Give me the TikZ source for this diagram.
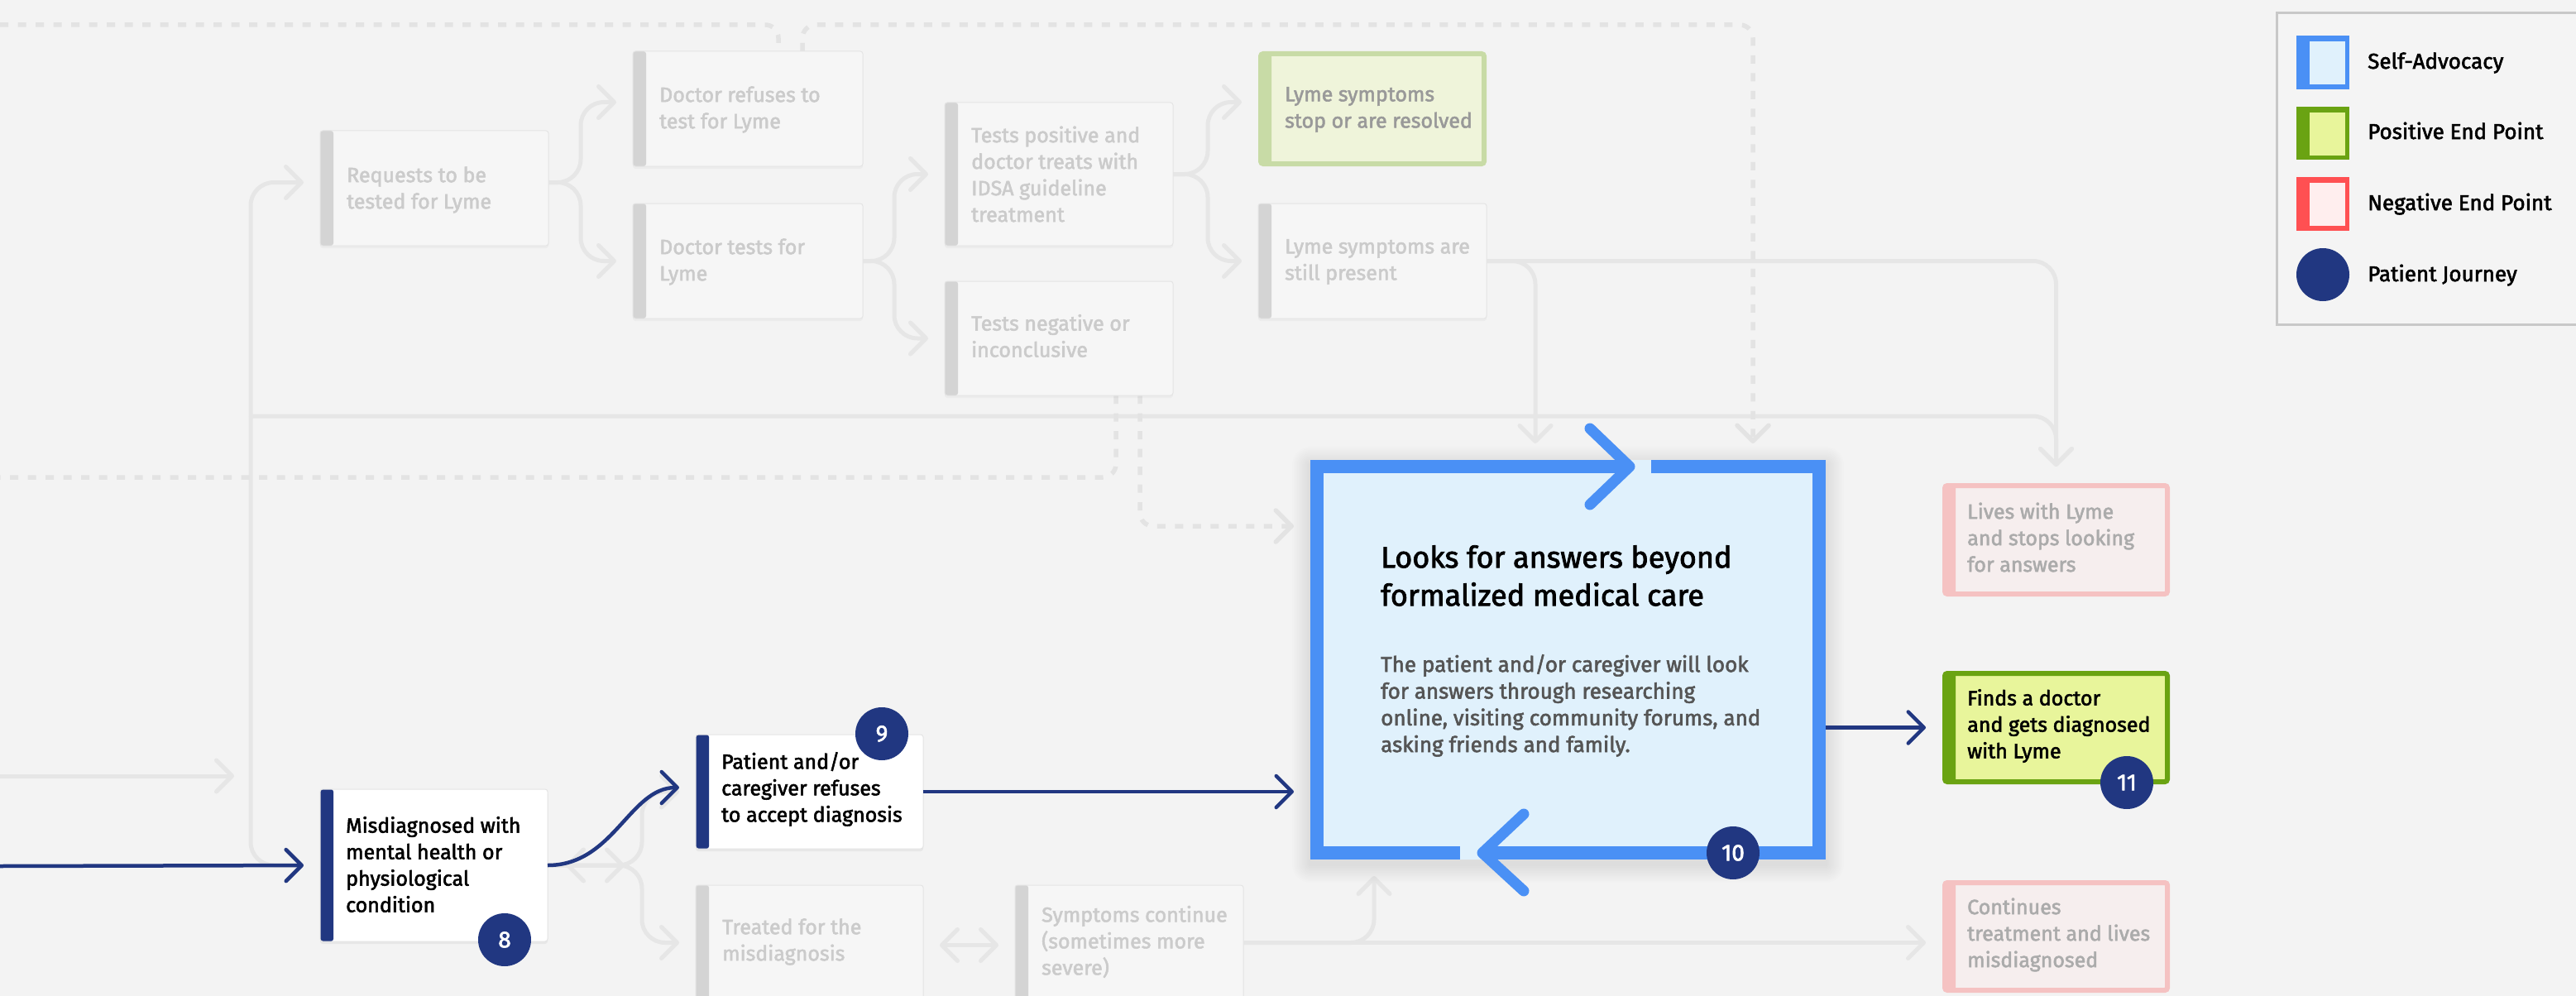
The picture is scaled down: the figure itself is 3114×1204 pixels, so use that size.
\documentclass[tikz,border=0pt]{standalone}
\usepackage{fontspec}
\setmainfont{Fira Sans}
\newfontfamily\medf{Fira Sans}[FakeBold=2.2]
\usetikzlibrary{arrows.meta,calc,shadows}
\definecolor{bgc}{HTML}{F3F3F3}
\definecolor{lgray}{HTML}{E6E6E6}
\definecolor{dashc}{HTML}{E3E3E3}
\definecolor{fadefill}{HTML}{F6F6F6}
\definecolor{fadeedge}{HTML}{E4E4E4}
\definecolor{fadebar}{HTML}{D4D4D4}
\definecolor{fadetxt}{HTML}{CBCBCB}
\definecolor{navy}{HTML}{213781}
\definecolor{bblue}{HTML}{4A90F5}
\definecolor{lblue}{HTML}{E0F1FC}
\definecolor{gfill}{HTML}{E8F59B}
\definecolor{gedge}{HTML}{6AA312}
\definecolor{lgfill}{HTML}{EFF4DA}
\definecolor{lgedge}{HTML}{C8DBA6}
\definecolor{pfill}{HTML}{F6EEEE}
\definecolor{pedge}{HTML}{F5C2C2}
\definecolor{rred}{HTML}{FF5052}
\definecolor{rfill}{HTML}{FFEEEE}
\definecolor{bodytxt}{HTML}{555555}
\definecolor{legedge}{HTML}{C8C8C8}
\definecolor{legfill}{HTML}{F4F4F4}
\tikzset{
  >={Straight Barb[length=19pt 0, width=38pt 0, round]},
  box/.style={rectangle, rounded corners=3pt, inner sep=0pt, outer sep=0pt},
  fadebox/.style={box, fill=fadefill, draw=fadeedge, line width=1pt,
    drop shadow={opacity=0.06, shadow xshift=0pt, shadow yshift=-3pt},
    path picture={\fill[fadebar] (path picture bounding box.north west) rectangle ([xshift=16pt]path picture bounding box.south west);}},
  navbox/.style={box, fill=white, draw=fadeedge, line width=1pt,
    drop shadow={opacity=0.10, shadow xshift=0pt, shadow yshift=-3pt},
    path picture={\fill[navy] (path picture bounding box.north west) rectangle ([xshift=16pt]path picture bounding box.south west);}},
  endbox/.style 2 args={box, fill=#1, draw=#2, line width=6pt, outer sep=3pt,
    path picture={\fill[#2] (path picture bounding box.north west) rectangle ([xshift=13pt]path picture bounding box.south west);}},
  btxt/.style={anchor=west, align=left, inner sep=0pt, font=\medf\fontsize{25}{32}\selectfont},
  ftxt/.style={btxt, text=fadetxt},
  gl/.style={draw=lgray, line width=5pt, rounded corners=28pt},
  garr/.style={gl, ->, shorten >=20pt},
  gdarr/.style={gl, <->, shorten >=20pt, shorten <=20pt},
  dl/.style={draw=dashc, line width=5.5pt, dash pattern=on 10pt off 11.5pt, rounded corners=16pt},
  darr/.style={dl, ->, shorten >=20pt},
  narr/.style={draw=navy, line width=4.5pt, ->, shorten >=20pt},
  badge/.style={circle, fill=navy, minimum size=64pt, inner sep=0pt, text=white, font=\medf\fontsize{28}{28}\selectfont},
  legtxt/.style={anchor=base west, inner sep=0pt, font=\medf\fontsize{26}{26}\selectfont},
}
\begin{document}
\begin{tikzpicture}[x=1pt,y=-1pt]
\fill[bgc] (0,0) rectangle (3114,1204);
\useasboundingbox (0,0) rectangle (3114,1204);

% ---------- node placeholders (positions) ----------
\node[box, minimum width=623pt, minimum height=483pt] (big) at (1895.5,797.5) {};
\node[box, minimum width=276pt, minimum height=139pt] (reqp) at (525,227.5) {};
\node[box, minimum width=278pt, minimum height=139pt] (refusep) at (904,131.5) {};
\node[box, minimum width=278pt, minimum height=139pt] (dtestsp) at (904,315.5) {};
\node[box, minimum width=276pt, minimum height=173pt] (tposp) at (1280,210.5) {};
\node[box, minimum width=276pt, minimum height=138pt] (tnegp) at (1280,409) {};
\node[box, minimum width=276pt, minimum height=139pt] (lstopp) at (1659,131.5) {};
\node[box, minimum width=276pt, minimum height=139pt] (lstillp) at (1659,315.5) {};
\node[box, minimum width=275pt, minimum height=137pt] (livesp) at (2485.5,652.5) {};
\node[box, minimum width=275pt, minimum height=137pt] (findsp) at (2485.5,879.5) {};
\node[box, minimum width=275pt, minimum height=136pt] (contp) at (2485.5,1132) {};
\node[box, minimum width=275pt, minimum height=184pt] (misp) at (524.5,1046) {};
\node[box, minimum width=275pt, minimum height=138pt] (patp) at (978.5,957) {};
\node[box, minimum width=275pt, minimum height=139pt] (treatedp) at (978.5,1139.5) {};
\node[box, minimum width=276pt, minimum height=139pt] (symptp) at (1365,1139.5) {};

\coordinate (bus) at (303,503);
\coordinate (lin) at (0,938);
\coordinate (nin) at (0,1047);
\coordinate (dtop) at (0,30);
\coordinate (dbot) at (0,577);
\coordinate (dtr) at (2119,30);

% ---------- faded grey connectors ----------
\draw[garr] (lin) -- (bus |- lin);
\draw[garr] (bus) |- ($(reqp.west)+(0,-7)$);
\draw[garr] (bus) |- (misp.west);
\draw[garr] (bus) -| (livesp.north);
\draw[garr] ($(reqp.east)+(0,-7)$) -- ++(39,0) |- ($(refusep.west)+(0,-8)$);
\draw[garr] ($(reqp.east)+(0,-7)$) -- ++(39,0) |- (dtestsp.west);
\draw[garr] (dtestsp.east) -- ++(38,0) |- (tposp.west);
\draw[garr] (dtestsp.east) -- ++(38,0) |- (tnegp.west);
\draw[garr] (tposp.east) -- ++(42,0) |- ($(lstopp.west)+(0,-8)$);
\draw[garr] (tposp.east) -- ++(42,0) |- (lstillp.west);
\draw[garr] (lstillp.east) -| (livesp.north);
\draw[garr] (lstillp.east) -| ($(big.north west)+(272,0)$);
\draw[garr] (misp.east) -- ++(114,0) |- (treatedp.west);
\draw[garr] (misp.east) -- ++(114,0) |- (patp.west);
\draw[gl, <->, shorten <=22pt, shorten >=20pt] (misp.east) -- ++(113,0);
\draw[gdarr] ($(treatedp.east)+(0,3)$) -- ($(symptp.west)+(0,3)$);
\draw[garr] (symptp.east) -- (contp.west |- symptp.east);
\draw[garr] (symptp.east) -| ($(big.south west)+(77,0)$);

% ---------- dashed connectors ----------
\draw[dl] (dtop) -| ($(refusep.north)+(37,0)$);
\draw[darr] ($(refusep.north)+(66,0)$) |- (dtr) -- (dtr |- big.north);
\draw[dl] ($(tnegp.south)+(69,0)$) |- (dbot);
\draw[darr] ($(tnegp.south)+(98,0)$) |- ($(big.north west)+(0,80)$);

% ---------- faded boxes ----------
\node[fadebox, minimum width=276pt, minimum height=139pt] (req) at (reqp) {};
\node[ftxt] (req-t) at ($(req.west)+(32,2)$) {Requests to be\\tested for Lyme};
\node[fadebox, minimum width=278pt, minimum height=139pt] (refuse) at (refusep) {};
\node[ftxt] (refuse-t) at ($(refuse.west)+(32,1)$) {Doctor refuses to\\test for Lyme};
\node[fadebox, minimum width=278pt, minimum height=139pt] (dtests) at (dtestsp) {};
\node[ftxt] (dtests-t) at ($(dtests.west)+(32,1)$) {Doctor tests for\\Lyme};
\node[fadebox, minimum width=276pt, minimum height=173pt] (tpos) at (tposp) {};
\node[ftxt] (tpos-t) at ($(tpos.west)+(32,0)$) {Tests positive and\\doctor treats with\\IDSA guideline\\treatment};
\node[fadebox, minimum width=276pt, minimum height=138pt] (tneg) at (tnegp) {};
\node[ftxt] (tneg-t) at ($(tneg.west)+(32,-3)$) {Tests negative or\\inconclusive};
\node[endbox={lgfill}{lgedge}, minimum width=270pt, minimum height=133pt] (lstop) at (lstopp) {};
\node[btxt, text=black!40] (lstop-t) at ($(lstop.west)+(32,1)$) {Lyme symptoms\\stop or are resolved};
\node[fadebox, minimum width=276pt, minimum height=139pt] (lstill) at (lstillp) {};
\node[ftxt] (lstill-t) at ($(lstill.west)+(32,1)$) {Lyme symptoms are\\still present};
\node[endbox={pfill}{pedge}, minimum width=269pt, minimum height=131pt] (lives) at (livesp) {};
\node[btxt, text=black!33] (lives-t) at ($(lives.west)+(30,-3)$) {Lives with Lyme\\and stops looking\\for answers};
\node[endbox={pfill}{pedge}, minimum width=269pt, minimum height=130pt] (cont) at (contp) {};
\node[btxt, text=black!33] (cont-t) at ($(cont.west)+(30,-2)$) {Continues\\treatment and lives\\misdiagnosed};
\node[fadebox, minimum width=275pt, minimum height=139pt] (treated) at (treatedp) {};
\node[ftxt] (treated-t) at ($(treated.west)+(32,-1)$) {Treated for the\\misdiagnosis};
\node[fadebox, minimum width=276pt, minimum height=139pt] (sympt) at (symptp) {};
\node[ftxt] (sympt-t) at ($(sympt.west)+(32,-1)$) {Symptoms continue\\(sometimes more\\severe)};

% ---------- big self-advocacy box ----------
\foreach \d in {2,4,...,22}{
  \fill[black, opacity=0.009, rounded corners=\d pt] ($(big.north west)+(-\d,-\d+6)$) rectangle ($(big.south east)+(\d,\d+6)$);
}
\fill[lblue, rounded corners=4pt] (big.north west) rectangle (big.south east);
\draw[bblue, line width=16pt] (1970,564) -- (1592,564) -- (1592,1031) -- (1765,1031);
\draw[bblue, line width=16pt] (1792,1031) -- (2199,1031) -- (2199,564) -- (1996,564);
\draw[bblue, line width=13pt, line cap=round, line join=round] (1922,518) -- (1970,564) -- (1922,610);
\draw[bblue, line width=13pt, line cap=round, line join=round] (1842,984) -- (1792,1031) -- (1842,1077);
\node[anchor=north west, align=left, inner sep=0pt, font=\medf\fontsize{36}{46}\selectfont] (big-title) at (1669,659) {Looks for answers beyond\\formalized medical care};
\node[anchor=north west, align=left, inner sep=0pt, text=bodytxt, font=\medf\fontsize{26}{32.3}\selectfont] (big-body) at (1669,791) {The patient and/or caregiver will look\\for answers through researching\\online, visiting community forums, and\\asking friends and family.};

% ---------- journey boxes ----------
\node[navbox, minimum width=275pt, minimum height=184pt] (mis) at (misp) {};
\node[btxt] (mis-t) at ($(mis.west)+(31,-1)$) {Misdiagnosed with\\mental health or\\physiological\\condition};
\node[navbox, minimum width=275pt, minimum height=138pt] (pat) at (patp) {};
\node[btxt] (pat-t) at ($(pat.west)+(31,-3)$) {Patient and/or\\caregiver refuses\\to accept diagnosis};
\node[endbox={gfill}{gedge}, minimum width=269pt, minimum height=131pt, drop shadow={opacity=0.08, shadow xshift=0pt, shadow yshift=-3pt}] (finds) at (findsp) {};
\node[btxt] (finds-t) at ($(finds.west)+(30,-2)$) {Finds a doctor\\and gets diagnosed\\with Lyme};

% ---------- navy journey connectors ----------
\draw[narr] (nin) -- (mis.west);
\draw[narr] (mis.east) .. controls +(80,0) and +(-80,0) .. ($(pat.west)+(0,-5)$);
\draw[narr] (pat.east) -- (big.west |- pat.east);
\draw[narr] (big.east |- finds.west) -- (finds.west);

% ---------- badges ----------
\node[badge] (b8) at (610,1136) {8};
\node[badge] (b9) at (1066,887) {9};
\node[badge] (b10) at (2095,1031) {10};
\node[badge] (b11) at (2571,946) {11};

% ---------- legend ----------
\draw[draw=legedge, fill=legfill, line width=3pt] (2752,16) rectangle (3150,392);
\fill[bblue] (2776,43) rectangle (2840,108);
\fill[lblue] (2792,50) rectangle (2835,102);
\fill[gedge] (2776,129) rectangle (2840,193);
\fill[gfill] (2792,136) rectangle (2835,188);
\fill[rred] (2776,214) rectangle (2840,279);
\fill[rfill] (2792,221) rectangle (2835,273);
\node[circle, fill=navy, minimum size=64pt, inner sep=0pt] (leg4) at (2808,332) {};
\node[legtxt] (leg1-t) at (2862,83) {Self-Advocacy};
\node[legtxt] (leg2-t) at (2862,168) {Positive End Point};
\node[legtxt] (leg3-t) at (2862,254) {Negative End Point};
\node[legtxt] (leg4-t) at (2862,340) {Patient Journey};
\end{tikzpicture}
\end{document}
